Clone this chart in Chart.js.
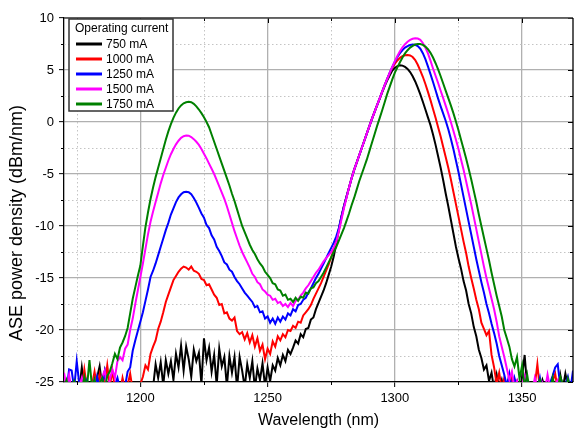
<!DOCTYPE html>
<html lang="en">
<head>
  <meta charset="UTF-8">
  <title>ASE power density</title>
  <script src="https://cdn.jsdelivr.net/npm/chart.js"></script>
  <style>
    html, body { margin: 0; padding: 0; background: #fff; }
    #wrap { width: 585px; height: 438px; position: relative; }
  </style>
</head>
<body>
  <div id="wrap"><canvas id="aseChart"></canvas></div>
  <script>
    // wavelength grid (nm)
    const wavelength = [
      1170,1171,1172,1173,1174,1175,1176,1177,1178,1179,
      1180,1181,1182,1183,1184,1185,1186,1187,1188,1189,
      1190,1191,1192,1193,1194,1195,1196,1197,1198,1199,
      1200,1201,1202,1203,1204,1205,1206,1207,1208,1209,
      1210,1211,1212,1213,1214,1215,1216,1217,1218,1219,
      1220,1221,1222,1223,1224,1225,1226,1227,1228,1229,
      1230,1231,1232,1233,1234,1235,1236,1237,1238,1239,
      1240,1241,1242,1243,1244,1245,1246,1247,1248,1249,
      1250,1251,1252,1253,1254,1255,1256,1257,1258,1259,
      1260,1261,1262,1263,1264,1265,1266,1267,1268,1269,
      1270,1271,1272,1273,1274,1275,1276,1277,1278,1279,
      1280,1281,1282,1283,1284,1285,1286,1287,1288,1289,
      1290,1291,1292,1293,1294,1295,1296,1297,1298,1299,
      1300,1301,1302,1303,1304,1305,1306,1307,1308,1309,
      1310,1311,1312,1313,1314,1315,1316,1317,1318,1319,
      1320,1321,1322,1323,1324,1325,1326,1327,1328,1329,
      1330,1331,1332,1333,1334,1335,1336,1337,1338,1339,
      1340,1341,1342,1343,1344,1345,1346,1347,1348,1349,
      1350,1351,1352,1353,1354,1355,1356,1357,1358,1359,
      1360,1361,1362,1363,1364,1365,1366,1367,1368,1369,
      1370
    ];

    // ASE power density (dBm/nm), one value per wavelength above
    const ase750 = [
      -25.6,-25.3,-26.0,-25.4,-25.8,-25.2,-25.7,-23.6,-25.5,-25.9,
      -25.3,-25.8,-25.1,-24.6,-23.5,-25.4,-24.0,-25.7,-25.3,-25.9,
      -25.4,-25.8,-25.2,-26.0,-25.5,-25.1,-25.8,-25.4,-26.0,-25.6,
      -25.3,-25.9,-25.5,-25.2,-25.8,-25.5,-23.3,-24.6,-23.1,-25.3,
      -22.9,-24.2,-23.0,-24.8,-22.3,-23.6,-21.5,-23.9,-21.6,-22.8,
      -24.5,-21.9,-23.0,-22.2,-25.2,-20.8,-22.9,-21.7,-24.0,-22.4,
      -25.3,-21.8,-23.5,-22.6,-25.4,-22.5,-24.1,-22.6,-25.6,-22.6,
      -23.9,-25.5,-23.3,-24.6,-23.0,-25.6,-23.7,-24.8,-23.2,-25.4,
      -23.6,-24.9,-23.4,-23.9,-22.7,-23.4,-22.4,-23.0,-21.9,-22.3,
      -21.7,-21.0,-21.3,-20.4,-20.7,-19.9,-19.8,-19.0,-18.8,-18.0,
      -17.4,-16.8,-16.2,-15.5,-14.7,-13.9,-12.9,-11.7,-10.3,-9.1,
      -8.1,-7.2,-6.3,-5.4,-4.6,-3.9,-3.2,-2.5,-1.8,-1.1,
      -0.4,0.3,0.95,1.6,2.2,2.85,3.45,4.0,4.5,4.95,
      5.2,5.38,5.45,5.42,5.3,5.1,4.8,4.4,3.9,3.3,
      2.65,1.95,1.2,0.45,-0.3,-1.2,-2.2,-3.3,-4.4,-5.6,
      -6.9,-8.1,-9.4,-10.7,-12.0,-13.1,-14.1,-15.3,-16.2,-17.5,
      -18.4,-19.7,-20.6,-21.9,-22.7,-23.8,-23.4,-24.9,-24.1,-25.7,
      -24.3,-25.6,-24.8,-26.0,-25.2,-24.6,-25.8,-25.3,-24.9,-26.0,
      -24.5,-22.4,-25.5,-25.9,-25.2,-26.0,-25.4,-25.8,-24.8,-25.6,
      -25.2,-26.0,-24.7,-25.5,-25.9,-24.3,-25.6,-24.2,-25.4,-25.8,
      -25.3
    ];
    const ase1000 = [
      -25.6,-25.2,-26.0,-25.4,-26.0,-25.5,-24.9,-25.8,-23.8,-25.5,
      -26.0,-25.3,-24.0,-25.6,-24.3,-25.8,-25.2,-23.4,-25.4,-23.9,
      -25.6,-25.1,-26.0,-24.6,-25.7,-25.3,-24.2,-25.8,-25.4,-25.6,
      -25.2,-24.5,-23.4,-23.8,-22.3,-21.6,-21.0,-19.9,-19.2,-18.3,
      -17.3,-16.6,-15.9,-15.2,-14.8,-14.4,-14.1,-13.9,-14.0,-14.2,
      -13.9,-14.3,-14.4,-14.6,-15.1,-15.2,-15.7,-15.6,-16.1,-16.6,
      -16.9,-17.6,-17.5,-18.4,-18.3,-18.9,-19.1,-18.8,-20.1,-20.4,
      -20.2,-20.9,-20.3,-21.2,-20.5,-21.6,-20.8,-22.0,-21.4,-22.8,
      -21.8,-22.3,-21.1,-21.6,-20.6,-21.0,-20.4,-20.7,-20.0,-20.1,
      -19.6,-19.8,-19.2,-19.3,-18.6,-18.3,-18.0,-17.6,-17.0,-16.5,
      -16.0,-15.5,-14.9,-14.3,-13.7,-13.0,-12.3,-11.4,-10.4,-9.2,
      -8.1,-7.2,-6.3,-5.4,-4.6,-3.9,-3.2,-2.5,-1.8,-1.1,
      -0.4,0.3,0.95,1.6,2.25,2.9,3.55,4.15,4.7,5.2,
      5.6,5.92,6.17,6.33,6.42,6.45,6.4,6.25,5.95,5.5,
      4.95,4.35,3.65,2.9,2.1,1.25,0.4,-0.5,-1.4,-2.4,
      -3.4,-4.4,-5.5,-6.7,-7.9,-9.1,-10.3,-11.5,-12.6,-13.9,
      -15.0,-16.0,-17.1,-18.0,-19.3,-19.9,-20.5,-20.1,-22.4,-23.6,
      -25.2,-24.1,-25.7,-24.6,-25.5,-26.0,-24.4,-25.8,-25.2,-26.0,
      -25.4,-25.9,-24.8,-25.6,-26.0,-25.3,-23.3,-25.7,-25.2,-25.9,
      -25.5,-26.0,-24.9,-24.2,-25.8,-25.4,-26.0,-25.3,-25.7,-25.9,
      -25.6
    ];
    const ase1250 = [
      -25.4,-25.8,-23.8,-23.9,-25.6,-23.0,-25.2,-26.0,-25.5,-24.8,
      -25.9,-25.3,-26.0,-24.5,-25.6,-25.2,-24.0,-25.8,-25.4,-26.0,
      -25.3,-24.6,-25.7,-25.1,-25.4,-24.0,-23.6,-22.0,-21.0,-20.1,
      -19.2,-18.3,-17.2,-16.1,-14.9,-14.3,-13.6,-12.8,-12.0,-11.2,
      -10.4,-9.7,-8.9,-8.3,-7.7,-7.25,-6.95,-6.75,-6.7,-6.75,
      -6.95,-7.3,-7.75,-8.25,-8.8,-9.2,-9.9,-10.2,-10.9,-11.3,
      -12.0,-12.4,-12.9,-13.5,-13.7,-14.2,-14.4,-14.9,-15.3,-15.6,
      -16.0,-16.4,-16.7,-17.0,-17.3,-17.8,-17.7,-18.3,-18.2,-18.9,
      -18.7,-19.3,-18.9,-19.4,-18.8,-19.2,-18.7,-19.0,-18.4,-18.6,
      -18.0,-18.2,-17.6,-17.5,-17.1,-16.9,-16.4,-16.0,-15.5,-15.0,
      -14.6,-14.1,-13.6,-13.1,-12.6,-12.1,-11.6,-11.0,-10.2,-9.1,
      -8.1,-7.2,-6.3,-5.4,-4.6,-3.9,-3.2,-2.5,-1.8,-1.1,
      -0.4,0.3,0.95,1.6,2.25,2.9,3.55,4.15,4.75,5.3,
      5.8,6.25,6.62,6.92,7.15,7.3,7.4,7.45,7.42,7.3,
      7.05,6.62,6.05,5.35,4.6,3.85,3.05,2.25,1.5,0.8,
      0.1,-0.7,-1.6,-2.6,-3.7,-4.8,-6.0,-7.2,-8.4,-9.6,
      -10.8,-12.0,-13.2,-14.3,-15.4,-16.4,-17.5,-18.4,-19.4,-20.3,
      -21.3,-22.5,-23.4,-24.3,-25.4,-24.2,-25.8,-24.6,-25.5,-26.0,
      -25.3,-25.9,-24.9,-25.6,-26.0,-25.2,-25.7,-24.6,-26.0,-25.5,
      -25.8,-25.1,-24.4,-23.6,-23.3,-25.4,-26.0,-25.3,-24.5,-25.7,
      -23.9
    ];
    const ase1500 = [
      -24.1,-25.5,-24.3,-25.9,-25.2,-26.0,-25.4,-24.6,-25.8,-25.3,
      -26.0,-25.4,-24.7,-25.8,-25.2,-24.5,-23.9,-25.6,-24.8,-23.8,
      -24.6,-23.0,-22.6,-22.9,-21.8,-21.4,-20.0,-18.9,-17.5,-16.2,
      -14.9,-13.6,-12.2,-10.8,-9.6,-8.6,-7.7,-6.8,-5.9,-5.1,
      -4.4,-3.7,-3.1,-2.6,-2.15,-1.8,-1.52,-1.37,-1.3,-1.32,
      -1.45,-1.65,-1.9,-2.2,-2.6,-3.05,-3.5,-4.0,-4.5,-5.0,
      -5.6,-6.2,-6.8,-7.4,-8.1,-8.9,-9.7,-10.5,-11.2,-11.9,
      -12.5,-13.0,-13.5,-14.0,-14.6,-14.9,-15.4,-15.6,-16.1,-16.3,
      -16.6,-16.7,-17.1,-17.0,-17.4,-17.3,-17.7,-17.5,-17.8,-17.4,
      -17.7,-17.2,-17.1,-16.7,-16.4,-16.0,-15.7,-15.3,-14.9,-14.5,
      -14.2,-13.8,-13.4,-13.1,-12.8,-12.5,-12.1,-11.5,-10.5,-9.4,
      -8.3,-7.3,-6.3,-5.4,-4.6,-3.9,-3.2,-2.5,-1.8,-1.1,
      -0.4,0.3,0.95,1.6,2.25,2.9,3.55,4.15,4.75,5.3,
      5.85,6.35,6.8,7.18,7.48,7.72,7.9,8.0,8.05,8.02,
      7.9,7.6,7.15,6.6,5.9,5.15,4.45,3.75,3.0,2.3,
      1.55,0.8,0.0,-0.85,-1.7,-2.6,-3.6,-4.6,-5.7,-6.8,
      -7.9,-9.1,-10.3,-11.5,-12.7,-13.9,-15.0,-16.0,-17.0,-18.0,
      -19.2,-20.6,-21.6,-22.6,-23.7,-24.8,-24.0,-25.6,-24.9,-26.0,
      -25.3,-24.4,-25.8,-25.2,-26.0,-24.6,-25.5,-25.9,-25.1,-25.7,
      -24.3,-25.6,-26.0,-25.2,-24.8,-25.9,-25.4,-26.0,-25.3,-25.8,
      -25.5
    ];
    const ase1750 = [
      -25.5,-24.8,-26.0,-25.3,-24.9,-26.0,-25.2,-25.8,-24.5,-25.6,
      -22.9,-25.5,-24.7,-26.0,-25.1,-24.6,-25.8,-24.4,-24.0,-23.2,
      -22.3,-22.8,-21.7,-21.2,-20.6,-19.8,-18.4,-17.0,-15.9,-14.8,
      -13.8,-11.9,-10.1,-8.7,-7.4,-6.3,-5.3,-4.4,-3.5,-2.6,
      -1.7,-0.9,-0.2,0.4,0.9,1.3,1.6,1.8,1.9,1.95,
      1.9,1.75,1.5,1.2,0.85,0.45,0.0,-0.5,-1.2,-1.9,
      -2.6,-3.3,-4.0,-4.7,-5.4,-6.1,-6.9,-7.6,-8.4,-9.2,
      -10.0,-10.6,-11.2,-11.8,-12.3,-12.7,-13.2,-13.6,-13.9,-14.4,
      -14.7,-15.0,-15.5,-15.6,-16.1,-16.2,-16.7,-16.6,-17.1,-17.0,
      -17.3,-16.9,-17.2,-16.8,-16.9,-16.4,-16.5,-16.0,-15.9,-15.5,
      -15.3,-14.9,-14.5,-14.0,-13.5,-13.0,-12.5,-12.0,-11.4,-10.8,
      -10.2,-9.5,-8.8,-8.0,-7.3,-6.5,-5.7,-5.0,-4.3,-3.6,
      -2.8,-2.0,-1.2,-0.4,0.35,1.1,1.9,2.7,3.4,4.1,
      4.75,5.25,5.75,6.2,6.6,6.9,7.15,7.32,7.45,7.5,
      7.5,7.42,7.25,7.0,6.65,6.2,5.65,5.05,4.4,3.7,
      3.0,2.3,1.6,0.85,0.05,-0.8,-1.7,-2.6,-3.5,-4.5,
      -5.5,-6.6,-7.7,-8.9,-10.0,-11.1,-12.2,-13.3,-14.5,-15.6,
      -16.7,-17.7,-18.7,-20.0,-20.8,-21.6,-22.8,-23.5,-22.6,-24.7,
      -23.4,-25.5,-24.3,-25.9,-25.2,-26.0,-25.4,-24.8,-25.7,-26.0,
      -25.3,-25.8,-24.6,-26.0,-25.5,-24.5,-25.2,-25.9,-24.7,-25.6,
      -26.0
    ];

    const seriesLabels = ['750 mA', '1000 mA', '1250 mA', '1500 mA', '1750 mA'];
    const seriesValues = [ase750, ase1000, ase1250, ase1500, ase1750];
    const seriesColors = ['#000000', '#ff0000', '#0000ff', '#ff00ff', '#008000'];

    const xMajorTicks = [1200, 1250, 1300, 1350];
    const xMinorTicks = [1175, 1225, 1275, 1325];
    const yMajorTicks = [-25, -20, -15, -10, -5, 0, 5, 10];
    const yMinorTicks = [-22.5, -17.5, -12.5, -7.5, -2.5, 2.5, 7.5];

    const FONT = "'Liberation Sans', Arial, sans-serif";

    // dotted minor grid + minor ticks + top/right frame + legend + axis titles
    const framePlugin = {
      id: 'frame',
      beforeDatasetsDraw(chart) {
        const { ctx, chartArea: a, scales } = chart;
        ctx.save();
        ctx.strokeStyle = '#c4c4c4';
        ctx.lineWidth = 1;
        ctx.setLineDash([1.5, 2.5]);
        xMinorTicks.forEach(v => {
          const px = Math.round(scales.x.getPixelForValue(v)) + 0.5;
          ctx.beginPath(); ctx.moveTo(px, a.top); ctx.lineTo(px, a.bottom); ctx.stroke();
        });
        yMinorTicks.forEach(v => {
          const py = Math.round(scales.y.getPixelForValue(v)) + 0.5;
          ctx.beginPath(); ctx.moveTo(a.left, py); ctx.lineTo(a.right, py); ctx.stroke();
        });
        ctx.restore();
      },
      afterDatasetsDraw(chart) {
        const { ctx, chartArea: a, scales } = chart;
        ctx.save();
        ctx.strokeStyle = '#000';
        ctx.lineWidth = 1;
        // minor ticks outward on left/bottom, all ticks inward on right/top
        xMinorTicks.forEach(v => {
          const px = Math.round(scales.x.getPixelForValue(v)) + 0.5;
          ctx.beginPath(); ctx.moveTo(px, a.bottom); ctx.lineTo(px, a.bottom + 3); ctx.stroke();
          ctx.beginPath(); ctx.moveTo(px, a.top); ctx.lineTo(px, a.top + 3); ctx.stroke();
        });
        xMajorTicks.forEach(v => {
          const px = Math.round(scales.x.getPixelForValue(v)) + 0.5;
          ctx.beginPath(); ctx.moveTo(px, a.top); ctx.lineTo(px, a.top + 5); ctx.stroke();
        });
        yMinorTicks.forEach(v => {
          const py = Math.round(scales.y.getPixelForValue(v)) + 0.5;
          ctx.beginPath(); ctx.moveTo(a.left - 3, py); ctx.lineTo(a.left, py); ctx.stroke();
          ctx.beginPath(); ctx.moveTo(a.right - 3, py); ctx.lineTo(a.right, py); ctx.stroke();
        });
        yMajorTicks.forEach(v => {
          const py = Math.round(scales.y.getPixelForValue(v)) + 0.5;
          ctx.beginPath(); ctx.moveTo(a.right - 5, py); ctx.lineTo(a.right, py); ctx.stroke();
        });
        // top and right frame lines
        ctx.lineWidth = 1.3;
        ctx.strokeStyle = '#444';
        ctx.beginPath(); ctx.moveTo(a.left, a.top); ctx.lineTo(a.right, a.top); ctx.stroke();
        ctx.strokeStyle = '#000';
        ctx.beginPath(); ctx.moveTo(a.right, a.top); ctx.lineTo(a.right, a.bottom); ctx.stroke();

        // legend box
        const bx = 69, by = 19, bw = 104, bh = 92;
        ctx.fillStyle = '#fff';
        ctx.fillRect(bx, by, bw, bh);
        ctx.strokeStyle = '#333';
        ctx.lineWidth = 1.5;
        ctx.strokeRect(bx, by, bw, bh);
        ctx.fillStyle = '#000';
        ctx.font = '12px ' + FONT;
        ctx.textBaseline = 'middle';
        ctx.textAlign = 'left';
        ctx.fillText('Operating current', 75, 29);
        chart.data.datasets.forEach((ds, i) => {
          const cy = 44 + i * 15;
          ctx.strokeStyle = ds.borderColor;
          ctx.lineWidth = 3;
          ctx.beginPath(); ctx.moveTo(76, cy); ctx.lineTo(102, cy); ctx.stroke();
          ctx.fillStyle = '#000';
          ctx.fillText(ds.label, 106, cy + 0.5);
        });

        // axis titles
        ctx.font = '16px ' + FONT;
        ctx.textAlign = 'center';
        ctx.fillText('Wavelength (nm)', (a.left + a.right) / 2, 421);
        ctx.translate(17, 223);
        ctx.rotate(-Math.PI / 2);
        ctx.font = '18px ' + FONT;
        ctx.fillText('ASE power density (dBm/nm)', 0, 0);
        ctx.restore();
      }
    };

    const datasets = seriesValues.map((vals, i) => ({
      label: seriesLabels[i],
      data: wavelength.map((nm, k) => ({ x: nm, y: vals[k] })),
      borderColor: seriesColors[i],
      backgroundColor: seriesColors[i],
      borderWidth: 2,
      pointRadius: 0,
      tension: 0,
      order: seriesValues.length - i
    }));

    new Chart(document.getElementById('aseChart'), {
      type: 'line',
      data: { datasets },
      options: {
        responsive: true,
        maintainAspectRatio: false,
        animation: false,
        layout: { padding: { left: 0, top: 18, right: 12, bottom: 0 } },
        plugins: { legend: { display: false }, tooltip: { enabled: false } },
        scales: {
          x: {
            type: 'linear',
            min: 1170,
            max: 1370,
            afterFit(scale) { scale.height = 56; },
            afterBuildTicks(scale) { scale.ticks = xMajorTicks.map(v => ({ value: v })); },
            ticks: {
              color: '#000', padding: 4, font: { family: FONT, size: 13 },
              callback: v => String(v)
            },
            grid: { color: '#b0b0b0', lineWidth: 1.3, tickColor: '#000', tickLength: 5, tickWidth: 1 },
            border: { color: '#000', width: 1.3 }
          },
          y: {
            min: -25,
            max: 10,
            afterFit(scale) { scale.width = 64; },
            afterBuildTicks(scale) { scale.ticks = yMajorTicks.map(v => ({ value: v })); },
            ticks: {
              color: '#000', padding: 5, font: { family: FONT, size: 13 },
              callback: v => String(v)
            },
            grid: { color: '#b0b0b0', lineWidth: 1.3, tickColor: '#000', tickLength: 5, tickWidth: 1 },
            border: { color: '#000', width: 1.3 }
          }
        }
      },
      plugins: [framePlugin]
    });
  </script>
</body>
</html>
